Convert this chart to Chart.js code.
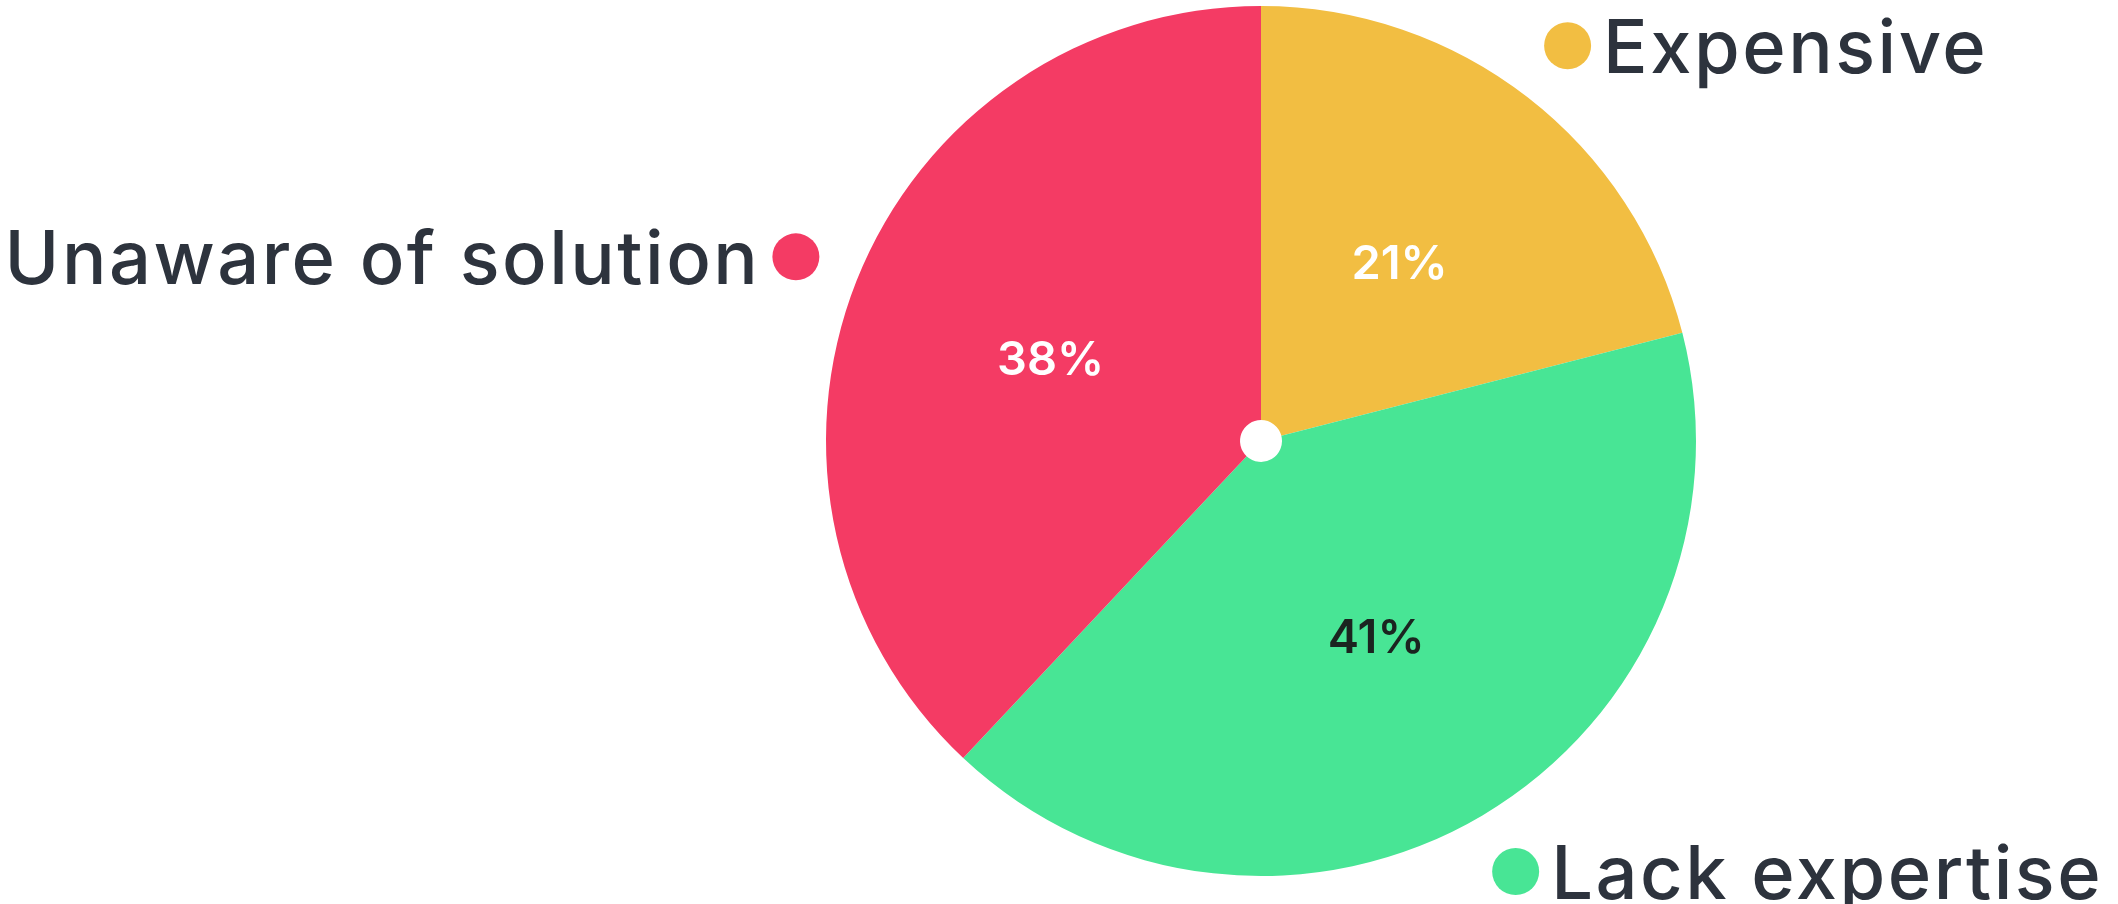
<!DOCTYPE html>
<html>
<head>
<meta charset="utf-8">
<script src="https://cdn.jsdelivr.net/npm/chart.js@4"></script>
<style>
  html, body { margin: 0; padding: 0; background: #ffffff; }
  #wrap { width: 2118px; height: 904px; }
</style>
</head>
<body>
<div id="wrap"><canvas id="chart" width="2118" height="904"></canvas></div>
<script>
const labels = ["Expensive", "Lack expertise", "Unaware of solution"];
const shares = [21, 41, 38];
const sliceColors = ["#f2be42", "#48e595", "#f43b64"];
const valueColors = ["#ffffff", "#1b2420", "#ffffff"];

const textColor = "#2d333d";
const fontFamily = "Inter, 'Noto Sans', sans-serif";

// outer labels with a dot marker, plus the percentages inside the slices
const sliceLabels = {
  id: "sliceLabels",
  afterDatasetsDraw(chart) {
    const ctx = chart.ctx;
    const meta = chart.getDatasetMeta(0);
    ctx.save();
    meta.data.forEach((arc, i) => {
      const { x, y, startAngle, endAngle, outerRadius } = arc.getProps(
        ["x", "y", "startAngle", "endAngle", "outerRadius"], true);
      const mid = (startAngle + endAngle) / 2;
      const cos = Math.cos(mid);
      const sin = Math.sin(mid);

      // percentage
      ctx.font = "600 47px " + fontFamily;
      ctx.letterSpacing = "0px";
      ctx.fillStyle = valueColors[i];
      ctx.textAlign = "center";
      ctx.textBaseline = "alphabetic";
      const vr = outerRadius * 0.52;
      ctx.fillText(shares[i] + "%", x + cos * vr, y + sin * vr + 17);

      // dot
      const dr = outerRadius * 1.15;
      const dx = x + cos * dr;
      const dy = y + sin * dr;
      ctx.beginPath();
      ctx.arc(dx, dy, 23.5, 0, Math.PI * 2);
      ctx.fillStyle = sliceColors[i];
      ctx.fill();

      // label
      ctx.font = "500 74px " + fontFamily;
      ctx.letterSpacing = "2.5px";
      ctx.fillStyle = textColor;
      if (cos >= 0) {
        ctx.textAlign = "left";
        ctx.fillText(labels[i], dx + 23.5 + 12, dy + 27);
      } else {
        ctx.textAlign = "right";
        ctx.fillText(labels[i], dx - 23.5 - 12, dy + 27);
      }
    });
    ctx.restore();
  }
};

new Chart(document.getElementById("chart"), {
  type: "pie",
  data: {
    labels: labels,
    datasets: [
      {
        data: shares,
        backgroundColor: sliceColors,
        borderWidth: 0,
        hoverOffset: 0,
      },
    ],
  },
  options: {
    responsive: false,
    animation: false,
    cutout: 21,
    layout: {
      padding: { left: 826, right: 422, top: 6, bottom: 28 },
    },
    plugins: {
      legend: { display: false },
      tooltip: { enabled: false },
    },
  },
  plugins: [sliceLabels],
});
</script>
</body>
</html>
